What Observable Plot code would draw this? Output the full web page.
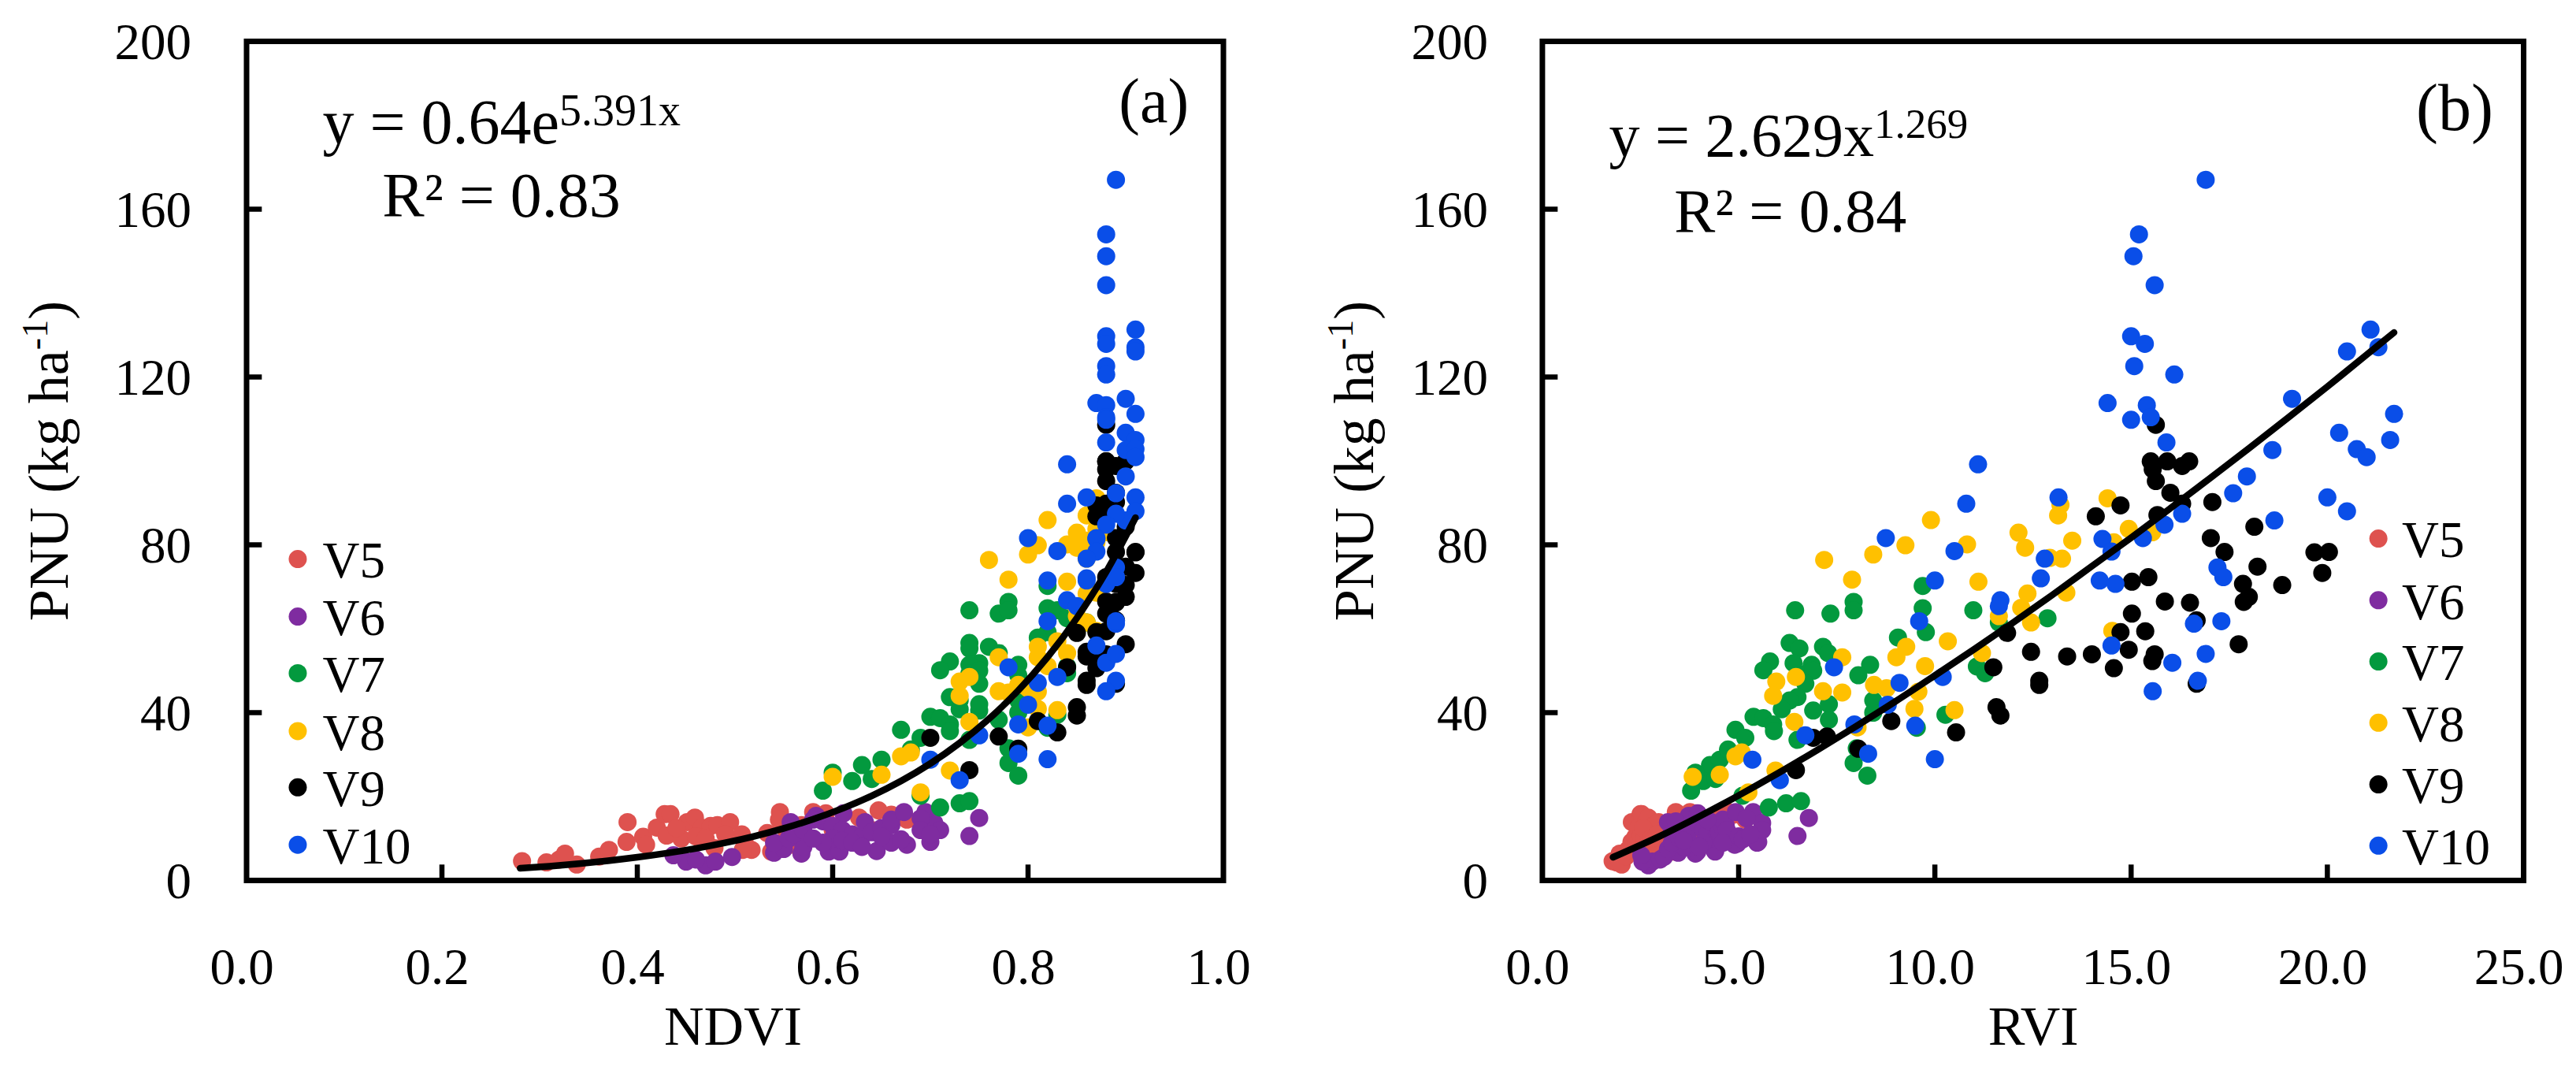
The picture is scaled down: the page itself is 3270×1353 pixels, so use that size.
<!DOCTYPE html>
<html>
<head>
<meta charset="utf-8">
<script src="https://cdn.jsdelivr.net/npm/d3@7"></script>
<script src="https://cdn.jsdelivr.net/npm/@observablehq/plot@0.6"></script>
<style>
html,body{margin:0;padding:0;background:#fff;overflow:hidden}
#wrap{display:flex;width:3270px;height:1353px}
svg{flex:none;overflow:visible;max-width:none!important}
</style>
</head>
<body>
<div id="wrap"></div>
<script>
// Each sample: [NDVI, RVI, PNU]
const v5 = [[.282,1.79,4.6],[.307,1.89,4.3],[.32,1.94,5],[.326,1.97,6.4],[.338,2.02,3.8],[.361,2.13,5.7],[.371,2.18,7.3],[.389,2.27,9.2],[.39,2.28,13.9],[.406,2.37,10.4],[.409,2.38,8.5],[.42,2.45,12.6],[.428,2.5,15.8],[.434,2.53,15.8],[.43,2.51,10.7],[.445,2.6,10],[.451,2.64,13.9],[.459,2.7,15],[.466,2.75,12.6],[.475,2.81,13],[.482,2.86,13.2],[.495,2.96,13.9],[.507,3.06,11],[.517,3.14,7.3],[.508,3.07,7.3],[.479,2.84,7.7],[.537,3.32,6.9],[.533,3.28,11.3],[.546,3.4,16.3],[.545,3.4,14.5],[.58,3.76,16.3],[.627,4.36,15],[.647,4.67,16.7],[.66,4.88,15.7],[.676,5.17,14.5],[.651,4.73,10.7],[.553,3.47,10.7],[.568,3.63,13.2],[.593,3.91,16],[.51,3.08,9],[.46,2.7,10.5],[.44,2.57,12.5],[.47,2.77,10],[.49,2.92,11],[.56,3.55,8.5],[.61,4.1,9.5],[.6,4,12],[.64,4.5,12]];
const v6 = [[.47,2.7,3.6],[.48,2.8,4.5],[.45,2.55,4.5],[.46,3.0,5],[.497,3.1,5.6],[.437,2.52,6],[.54,3.46,6.6],[.568,3.9,6.4],[.596,3.95,6.9],[.607,4.4,6.9],[.645,4.4,7],[.55,3.2,7.5],[.57,3.6,8],[.627,4.97,8.8],[.66,5.47,9],[.676,4.9,8.5],[.70,5.5,9.2],[.54,3.3,9],[.555,3.5,10],[.56,3.7,11],[.57,3.3,12],[.557,3.2,13.9],[.583,3.73,15.4],[.611,3.96,16],[.59,3.4,14.1],[.60,3.8,13],[.61,4.1,12],[.62,4.2,11],[.60,4.4,10],[.59,4.1,9],[.58,3.7,10],[.61,3.6,9.5],[.63,4.6,10.5],[.633,4.3,13.9],[.64,4.5,11.5],[.65,4.6,12.5],[.66,4.67,13.2],[.66,4.6,14.5],[.673,4.93,16.3],[.695,5.37,16.3],[.704,5.6,13.7],[.69,5.2,14.8],[.69,4.7,12],[.71,5.6,12],[.74,6.5,10.6],[.75,6.79,14.9],[.62,4.6,9],[.65,5.0,10.5],[.67,5.1,9.8],[.58,4.2,14.5],[.63,4.0,8],[.70,5.3,11]];
const v7 = [[.74,6.44,64.4],[.77,7.34,63.6],[.78,7.93,66.4],[.78,7.93,64.4],[.82,9.69,70.2],[.82,9.69,64.9],[.82,9.77,59.2],[.83,10.98,64.4],[.84,12.87,62.5],[.86,11.63,61.5],[.81,9.06,57.9],[.74,6.3,56.6],[.74,6.55,55.3],[.76,7.15,55.7],[.77,7.28,54.2],[.79,8.35,51.4],[.79,8.05,48.9],[.72,5.8,52.2],[.71,5.63,50.1],[.75,6.4,51.8],[.74,6.86,51.4],[.74,6.72,49.3],[.75,6.9,50],[.84,11.07,51],[.84,11.28,49.4],[.75,6.7,46.9],[.72,6.5,43.7],[.73,6.3,42.9],[.73,6.1,40.8],[.75,6.9,40.5],[.75,7.3,42],[.79,8.43,42.9],[.79,8.43,40],[.77,7.3,38.3],[.70,5.38,39],[.71,5.63,38.7],[.72,5.88,37.2],[.72,5.9,35.6],[.74,6.5,33.5],[.67,4.92,35.9],[.69,5.17,34],[.83,10.27,39.5],[.78,8.01,31.5],[.78,7.93,28],[.79,8.28,25],[.63,4.27,27.5],[.65,4.52,28.8],[.62,4.1,23.7],[.64,4.41,24.2],[.59,3.79,21.4],[.60,3.9,25.7],[.69,5.1,20.2],[.71,5.77,17.4],[.73,6.21,18.4],[.74,6.59,18.9],[.68,4.73,31.2],[.82,9.54,36.4]];
const v8 = [[.76,7.18,76.4],[.78,7.89,71.7],[.80,8.43,77.7],[.81,9.25,79.9],[.82,9.9,85.9],[.84,10.82,80.1],[.84,11.11,71.2],[.85,12.13,82.9],[.85,12.3,79.3],[.86,12.36,68.4],[.85,12.2,65],[.86,12.45,61.5],[.85,11.63,63],[.87,13.2,89.5],[.86,13.14,87],[.86,13.5,81],[.86,13.24,76.7],[.86,12.93,76.9],[.87,13.35,68.6],[.87,14.4,91.1],[.87,14.94,83.8],[.87,14.56,80.6],[.88,15.54,83],[.87,14.52,59.5],[.83,10.33,57],[.81,9.27,55.7],[.81,9.02,53.2],[.82,9.75,51.1],[.84,11.2,54.2],[.77,7.64,53.2],[.73,5.96,47.4],[.74,6.46,48.5],[.73,5.88,44],[.77,7.15,45.1],[.78,7.64,44.8],[.79,8.45,46.6],[.80,8.77,45.8],[.81,9.58,45],[.81,9.48,40.9],[.83,10.5,40.6],[.74,6.42,37.8],[.80,8.03,36.5],[.67,4.92,29.6],[.68,5.08,30.5],[.65,4.52,25.2],[.60,3.83,24.7],[.72,5.94,26.2],[.69,5.25,21]];
const v9 = [[.88,15.63,108.6],[.88,15.5,99.9],[.88,15.92,99.9],[.90,16.48,99.9],[.89,16.3,98.8],[.88,15.55,98],[.88,15.63,95.2],[.89,16,92.4],[.89,17.07,90.2],[.88,16.3,89.8],[.87,14.73,89.4],[.87,14.1,86.8],[.88,15.67,87.1],[.90,18.14,84.3],[.89,17.03,81.6],[.89,17.38,78.3],[.91,19.67,78.2],[.91,20.04,78.3],[.90,18.22,74.8],[.91,19.87,73.3],[.88,15.44,72.3],[.88,15.02,71.2],[.89,17.85,70.7],[.90,18.85,70.4],[.90,18,67.6],[.89,17.87,66.4],[.88,15.86,66.5],[.89,16.5,66.2],[.88,15.02,63.6],[.89,16.67,62],[.85,11.84,59],[.87,14.73,59.2],[.88,15.36,59.4],[.86,12.45,54.5],[.86,13.37,53.4],[.87,14,53.9],[.88,15.6,53.9],[.88,15.54,52.3],[.87,14.94,55],[.90,17.74,56.3],[.87,14.56,50.6],[.84,11.49,50.8],[.86,12.66,47.6],[.86,12.66,46.6],[.89,16.67,46.9],[.85,11.57,41.3],[.85,11.67,39.3],[.81,8.89,38],[.83,10.54,35.3],[.77,7.25,34.3],[.70,6.9,34],[.79,8.05,31.4],[.74,6.46,26.3]];
const v10 = [[.89,16.9,167],[.88,15.2,154],[.88,15.06,148.8],[.88,15.6,141.9],[.88,15.0,129.7],[.88,15.35,127.9],[.88,15.08,122.6],[.88,16.1,120.6],[.87,14.4,113.8],[.88,15.4,113.3],[.88,15.5,110.4],[.88,15.0,109.8],[.88,15.9,104.4],[.91,21.1,131.3],[.91,21.3,127.1],[.91,20.5,126.1],[.90,19.1,114.8],[.91,21.7,111.2],[.90,20.3,106.7],[.91,21.6,105],[.90,18.6,102.6],[.91,20.75,102.8],[.91,21.0,100.9],[.90,17.95,96.3],[.89,17.6,92.3],[.91,20,91.3],[.91,20.5,88],[.90,18.65,85.8],[.89,16.3,87.4],[.88,15.85,84.8],[.87,15.3,81.6],[.87,14.27,81.4],[.87,14.5,78.4],[.86,14.2,71.5],[.88,14.6,70.7],[.89,17.2,74.6],[.89,17.35,72.3],[.89,16.6,61.2],[.89,17.3,61.8],[.88,16.05,51.9],[.89,16.9,54],[.89,16.7,47.6],[.88,15.55,45.1],[.87,14.5,56],[.84,11.1,99.2],[.84,10.8,89.8],[.83,10.5,78.5],[.82,10.0,71.5],[.80,8.75,81.6],[.86,13.15,91.3],[.86,12.8,76.7],[.86,12.7,72],[.84,11.67,66.8],[.85,11.63,65.4],[.82,9.6,61.8],[.78,7.43,50.8],[.81,9.1,47.1],[.83,10.2,48.5],[.80,8.8,41.9],[.79,7.95,37.2],[.82,9.5,36.9],[.75,6.7,34.6],[.70,5.35,28.8],[.79,8.3,30.2],[.82,10,28.9],[.73,6.05,23.9]];

const seriesNames = ["V5","V6","V7","V8","V9","V10"];
const seriesData = [v5,v6,v7,v8,v9,v10];
const seriesColors = ["#DE524F","#7F2CA0","#03993E","#FFC000","#000000","#0A4EE8"];

// Fitted curves
const curveNdvi = [[.28,2.9],[.31,3.4],[.34,4],[.37,4.7],[.40,5.53],[.43,6.5],[.46,7.64],[.49,8.98],[.52,10.56],[.55,12.42],[.58,14.6],[.61,17.16],[.64,20.17],[.67,23.71],[.70,27.87],[.73,32.77],[.76,38.52],[.79,45.28],[.82,53.23],[.85,62.57],[.88,73.56],[.91,86.47]];
const curveRvi = [[1.8,5.54],[3,10.6],[4,15.27],[5,20.26],[6,25.53],[7,31.07],[8,36.8],[9,42.7],[10,48.85],[11,55.1],[12,61.5],[13,68.1],[14,74.9],[15,81.7],[16,88.7],[17,95.8],[18,103],[19,110.3],[20,117.7],[21,125.3],[21.7,130.6]];

const yTicks = [0,40,80,120,160,200];
const xTicksA = [0,.2,.4,.6,.8,1];
const xTicksB = [0,5,10,15,20,25];

const FONT = "Liberation Serif, Times New Roman, serif";

function panel(o){
  const legend = seriesNames.map((name,i)=>({name,color:seriesColors[i],y:o.legendY[i]}));
  const ux = o.xDomain[1]; // width of the x domain
  const svg = Plot.plot({
    width:1635, height:1353,
    marginLeft:o.marginLeft, marginRight:o.marginRight, marginTop:52, marginBottom:236,
    style:{fontFamily:FONT, background:"#fff", color:"#000", overflow:"visible"},
    x:{domain:o.xDomain},
    y:{domain:[0,200]},
    marks:[
      ...seriesData.map((rows,i)=>Plot.dot(rows,{x:d=>d[o.xIndex],y:d=>d[2],r:11.5,fill:seriesColors[i]})),
      Plot.line(o.curve,{x:d=>d[0],y:d=>d[1],stroke:"#000",strokeWidth:8.5,curve:"catmull-rom"}),
      Plot.ruleX(o.xTicks.slice(1,-1),{y1:0,y2:3.7,stroke:"#000",strokeWidth:6.5}),
      Plot.ruleY(yTicks.slice(1,-1),{x1:0,x2:ux*.016,stroke:"#000",strokeWidth:6.5}),
      Plot.frame({stroke:"#000",strokeWidth:7}),
      Plot.axisY({ticks:yTicks,tickSize:0,tickPadding:o.yPad,label:null,fontSize:65,dy:2}),
      Plot.axisX({ticks:o.xTicks,tickSize:0,tickPadding:85,label:null,fontSize:65,dx:-6,tickFormat:d3.format(".1f")}),
      Plot.dot(legend,{x:()=>o.legendDotX,y:"y",r:11.5,fill:"color"}),
      Plot.text(legend,{x:()=>o.legendTextX,y:"y",text:"name",textAnchor:"start",fontSize:65,dy:3,fill:"#000"}),
      Plot.text(["eq"],{x:()=>o.eqX,y:()=>o.eqY,textAnchor:"start",fontSize:o.eqSize,className:"eq"}),
      Plot.text([o.r2],{x:()=>o.r2X,y:()=>o.r2Y,textAnchor:"start",fontSize:o.eqSize}),
      Plot.text([o.tag],{x:()=>o.tagX,y:()=>o.tagY,textAnchor:"start",fontSize:o.tagSize}),
      Plot.text([o.xLabel],{x:()=>o.xLabelX,y:()=>-35,fontSize:70}),
      Plot.text(["PNU"],{x:()=>o.yLabelX,y:()=>100,rotate:-90,fontSize:72,className:"ylab"})
    ]
  });
  rich(svg,"eq",[[o.eqBase],[o.eqSup,o.supSize,-23]]);
  rich(svg,"ylab",[["PNU (kg ha"],["-1",46,-26],[")",72,26]]);
  return svg;
}
function rich(svg,cls,parts){
  const t = d3.select(svg).select(`g.${cls} text`);
  t.text(null);
  parts.forEach(([s,size,dy])=>{
    const sp = t.append("tspan").text(s);
    if(size) sp.attr("font-size",size);
    if(dy) sp.attr("dy",dy);
  });
}

const a = panel({
  xIndex:0, xDomain:[0,1], xTicks:xTicksA, curve:curveNdvi, marginLeft:312.5, marginRight:82.5, yPad:70,
  legendY:[76.6,62.9,49.4,35.6,22.2,8.5], legendDotX:.0524, legendTextX:.0778,
  eqBase:"y = 0.64e", eqSup:"5.391x", eqSize:80, supSize:56, eqX:.0778, eqY:180.5,
  r2:"R² = 0.83", r2X:.139, r2Y:163,
  tag:"(a)", tagX:.893, tagY:185.5, tagSize:80,
  xLabel:"NDVI", xLabelX:.498, yLabelX:-.2016
});
const b = panel({
  xIndex:1, xDomain:[0,25], xTicks:xTicksB, curve:curveRvi, marginLeft:322.4, marginRight:67, yPad:69,
  legendY:[81.5,66.8,52.2,37.6,22.9,8.3], legendDotX:21.3, legendTextX:21.9,
  eqBase:"y = 2.629x", eqSup:"1.269", eqSize:78, supSize:53, eqX:1.7, eqY:177.4,
  r2:"R² = 0.84", r2X:3.36, r2Y:159.4,
  tag:"(b)", tagX:22.26, tagY:184, tagSize:84,
  xLabel:"RVI", xLabelX:12.51, yLabelX:-4.78
});
const wrap = document.getElementById("wrap");
wrap.append(a,b);
</script>
</body>
</html>
